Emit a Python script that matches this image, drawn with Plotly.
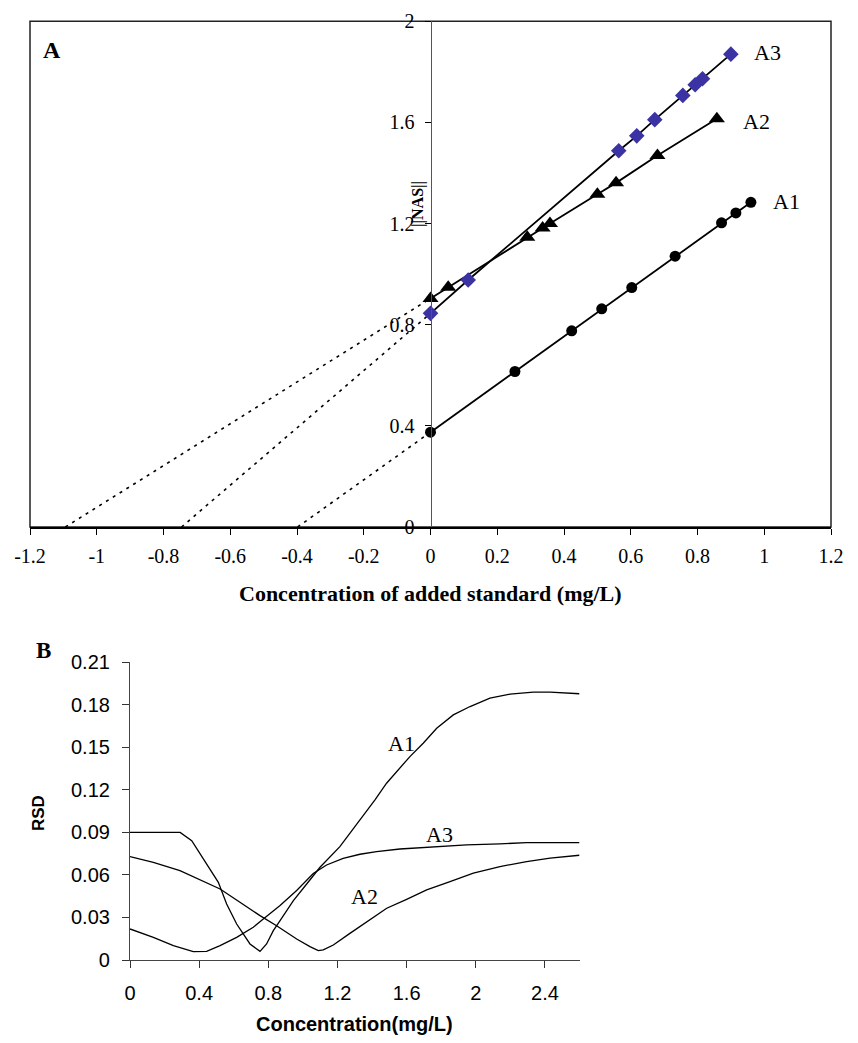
import plotly.graph_objects as go

# ---------------- Panel A data ----------------
a_xtick_vals = [-1.2, -1.0, -0.8, -0.6, -0.4, -0.2, 0, 0.2, 0.4, 0.6, 0.8, 1.0, 1.2]
a_xtick_text = ["-1.2", "-1", "-0.8", "-0.6", "-0.4", "-0.2", "0", "0.2", "0.4", "0.6", "0.8", "1", "1.2"]
a_ytick_vals = [0, 0.4, 0.8, 1.2, 1.6, 2.0]
a_ytick_text = ["0", "0.4", "0.8", "1.2", "1.6", "2"]

a1_x = [0, 0.253, 0.423, 0.513, 0.603, 0.733, 0.872, 0.915, 0.960]
a1_y = [0.375, 0.615, 0.776, 0.863, 0.947, 1.071, 1.203, 1.242, 1.284]
a2_x = [0, 0.053, 0.290, 0.336, 0.358, 0.500, 0.556, 0.680, 0.858]
a2_y = [0.904, 0.948, 1.146, 1.183, 1.200, 1.316, 1.361, 1.469, 1.615]
a3_x = [0, 0.113, 0.564, 0.618, 0.672, 0.756, 0.793, 0.815, 0.900]
a3_y = [0.845, 0.977, 1.488, 1.547, 1.611, 1.707, 1.749, 1.773, 1.870]

# extrapolation (x-intercept, y-intercept)
a1_ext_x = [-0.398, 0]
a1_ext_y = [0, 0.375]
a2_ext_x = [-1.094, 0]
a2_ext_y = [0, 0.904]
a3_ext_x = [-0.746, 0]
a3_ext_y = [0, 0.845]

# ---------------- Panel B data ----------------
b_xtick_vals = [0, 0.4, 0.8, 1.2, 1.6, 2.0, 2.4]
b_xtick_text = ["0", "0.4", "0.8", "1.2", "1.6", "2", "2.4"]
b_ytick_vals = [0, 0.03, 0.06, 0.09, 0.12, 0.15, 0.18, 0.21]
b_ytick_text = ["0", "0.03", "0.06", "0.09", "0.12", "0.15", "0.18", "0.21"]

b1_x = [0, 0.29, 0.357, 0.405, 0.453, 0.511, 0.559, 0.617, 0.694, 0.752, 0.79, 0.829,
        0.868, 0.945, 1.022, 1.099, 1.214, 1.33, 1.417, 1.484, 1.552, 1.619, 1.696,
        1.774, 1.87, 1.967, 2.082, 2.198, 2.333, 2.43, 2.6]
b1_y = [0.09, 0.09, 0.0842, 0.0748, 0.0654, 0.0548, 0.0395, 0.0254, 0.0113, 0.0061,
        0.0113, 0.0207, 0.0278, 0.0419, 0.0536, 0.0654, 0.080, 0.0988, 0.113, 0.1247,
        0.1341, 0.1435, 0.1529, 0.1635, 0.1729, 0.1788, 0.1847, 0.1875, 0.1889, 0.1889,
        0.1878]

b2_x = [0, 0.135, 0.289, 0.405, 0.521, 0.636, 0.752, 0.848, 0.964, 1.041, 1.089, 1.118,
        1.176, 1.272, 1.369, 1.485, 1.6, 1.716, 1.851, 1.986, 2.14, 2.294, 2.43, 2.6]
b2_y = [0.0729, 0.0689, 0.063, 0.0565, 0.0501, 0.0407, 0.0313, 0.0242, 0.0148, 0.0094,
        0.0066, 0.0071, 0.0106, 0.0188, 0.0271, 0.0365, 0.0428, 0.0494, 0.0553, 0.0612,
        0.0659, 0.0694, 0.0718, 0.0739]

b3_x = [0, 0.135, 0.251, 0.366, 0.443, 0.521, 0.617, 0.713, 0.771, 0.868, 0.964, 1.06,
        1.137, 1.233, 1.33, 1.426, 1.561, 1.754, 1.947, 2.14, 2.294, 2.43, 2.6]
b3_y = [0.0219, 0.016, 0.0101, 0.0059, 0.0061, 0.0101, 0.016, 0.0231, 0.0289, 0.0384,
        0.049, 0.061, 0.067, 0.0717, 0.0746, 0.0764, 0.0783, 0.080, 0.0812, 0.0819,
        0.0828, 0.0828, 0.0828]

SERIF = "Liberation Serif, Times New Roman, serif"
SANS = "Liberation Sans, Arial, sans-serif"
W, H = 858, 1043

fig = go.Figure()

# extrapolation dotted lines
for ex, ey in [(a1_ext_x, a1_ext_y), (a2_ext_x, a2_ext_y), (a3_ext_x, a3_ext_y)]:
    fig.add_trace(go.Scatter(x=ex, y=ey, mode="lines", xaxis="x", yaxis="y",
                             line=dict(color="black", width=1.6, dash="3px,5px"),
                             hoverinfo="skip"))

fig.add_trace(go.Scatter(x=a1_x, y=a1_y, mode="lines+markers", xaxis="x", yaxis="y",
                         line=dict(color="black", width=1.8),
                         marker=dict(symbol="circle", size=11, color="black")))
fig.add_trace(go.Scatter(x=a2_x, y=a2_y, mode="lines+markers", xaxis="x", yaxis="y",
                         line=dict(color="black", width=1.8),
                         marker=dict(symbol="triangle-up", size=14, color="black")))
fig.add_trace(go.Scatter(x=a3_x, y=a3_y, mode="lines+markers", xaxis="x", yaxis="y",
                         line=dict(color="black", width=1.8),
                         marker=dict(symbol="diamond", size=12, color="#3b33a3")))

for bx, by in [(b1_x, b1_y), (b2_x, b2_y), (b3_x, b3_y)]:
    fig.add_trace(go.Scatter(x=bx, y=by, mode="lines", xaxis="x2", yaxis="y2",
                             line=dict(color="black", width=1.3)))

def px(x):
    return x / W

def py(y):
    return (H - y) / H

xa_dom = [px(30), px(831)]
ya_dom = [py(527), py(21.3)]
xb_dom = [px(130), px(579.5)]
yb_dom = [py(960), py(662.3)]

fig.update_layout(
    width=W, height=H,
    margin=dict(l=0, r=0, t=0, b=0, pad=0, autoexpand=False),
    paper_bgcolor="white", plot_bgcolor="white",
    showlegend=False,
    xaxis=dict(domain=xa_dom, range=[-1.2, 1.2], anchor="y", automargin=False,
               tickvals=a_xtick_vals, ticktext=a_xtick_text,
               ticks="outside", ticklen=6, tickcolor="black", tickwidth=1,
               showline=True, linecolor="black", linewidth=2,
               showgrid=False, zeroline=False, ticklabelstandoff=4,
               tickfont=dict(family=SERIF, size=20, color="black")),
    yaxis=dict(domain=ya_dom, range=[0, 2], anchor="free", automargin=False,
               position=(xa_dom[0] + xa_dom[1]) / 2,
               tickvals=a_ytick_vals, ticktext=a_ytick_text,
               ticks="outside", ticklen=6, tickcolor="black", tickwidth=1,
               showline=True, linecolor="#555555", linewidth=1,
               showgrid=False, zeroline=False, ticklabelstandoff=6,
               tickfont=dict(family=SERIF, size=20, color="black")),
    xaxis2=dict(domain=xb_dom, range=[0, 2.6], anchor="y2", automargin=False,
                tickvals=b_xtick_vals, ticktext=b_xtick_text,
                ticks="outside", ticklen=7, tickcolor="#333333", tickwidth=1,
                showline=True, linecolor="#444444", linewidth=1.2,
                showgrid=False, zeroline=False, ticklabelstandoff=8,
                tickfont=dict(family=SANS, size=20, color="black")),
    yaxis2=dict(domain=yb_dom, range=[0, 0.21], anchor="x2", automargin=False,
                tickvals=b_ytick_vals, ticktext=b_ytick_text,
                ticks="outside", ticklen=7, tickcolor="#333333", tickwidth=1,
                showline=True, linecolor="#444444", linewidth=1.2,
                showgrid=False, zeroline=False, ticklabelstandoff=8,
                tickfont=dict(family=SANS, size=20, color="black")),
)

# frame of panel A
fig.add_shape(type="rect", xref="x domain", yref="y domain", x0=0, x1=1, y0=0, y1=1,
              line=dict(color="#222222", width=1.5), layer="below")

ann = [
    # panel A texts
    dict(text="<b>A</b>", x=px(52), y=py(50), xref="paper", yref="paper",
         font=dict(family=SERIF, size=24, color="black")),
    dict(text="A3", x=1.011, y=1.877, xref="x", yref="y",
         font=dict(family=SERIF, size=22, color="black")),
    dict(text="A2", x=0.978, y=1.604, xref="x", yref="y",
         font=dict(family=SERIF, size=22, color="black")),
    dict(text="A1", x=1.068, y=1.287, xref="x", yref="y",
         font=dict(family=SERIF, size=22, color="black")),
    dict(text="<b>||NAS||</b>", x=px(418), y=py(204), xref="paper", yref="paper",
         textangle=-90, font=dict(family=SERIF, size=16, color="black")),
    dict(text="<b>Concentration of added standard (mg/L)</b>", x=px(430.5), y=py(594),
         xref="paper", yref="paper", font=dict(family=SERIF, size=22, color="black")),
    # panel B texts
    dict(text="<b>B</b>", x=px(43), y=py(650), xref="paper", yref="paper",
         font=dict(family=SERIF, size=23, color="black")),
    dict(text="A1", x=1.571, y=0.153, xref="x2", yref="y2",
         font=dict(family=SERIF, size=22, color="black")),
    dict(text="A3", x=1.793, y=0.0882, xref="x2", yref="y2",
         font=dict(family=SERIF, size=22, color="black")),
    dict(text="A2", x=1.359, y=0.0447, xref="x2", yref="y2",
         font=dict(family=SERIF, size=22, color="black")),
    dict(text="<b>RSD</b>", x=px(38), y=py(813), xref="paper", yref="paper",
         textangle=-90, font=dict(family=SANS, size=17, color="black")),
    dict(text="<b>Concentration(mg/L)</b>", x=px(354.75), y=py(1024),
         xref="paper", yref="paper", font=dict(family=SANS, size=20, color="black")),
]
for a in ann:
    a.setdefault("showarrow", False)
    a.setdefault("xanchor", "center")
    a.setdefault("yanchor", "middle")
    fig.add_annotation(**a)

fig.write_html("out.html", config={"displayModeBar": False},
               post_script="document.body.style.margin='0';document.body.style.padding='0';")
